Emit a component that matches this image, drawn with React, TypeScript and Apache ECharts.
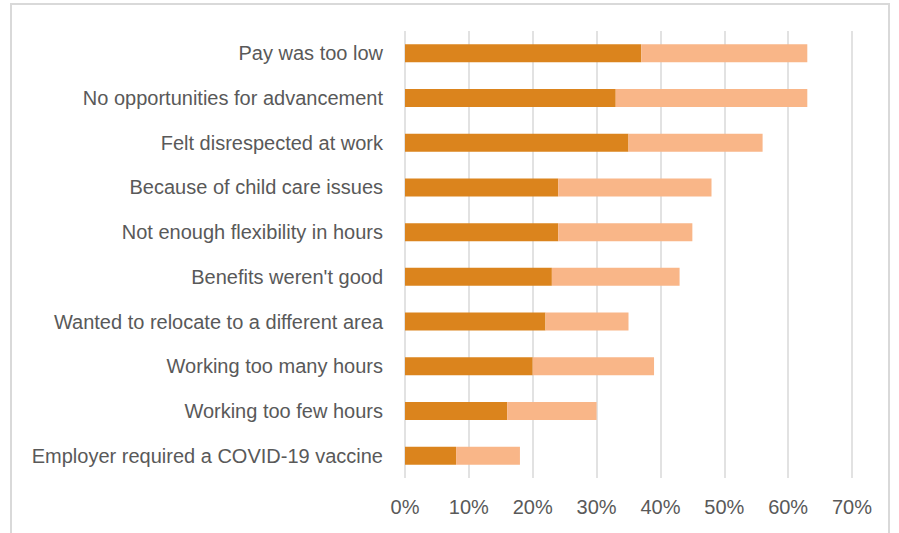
import React, { useEffect, useRef } from "react";
import * as echarts from "echarts";

const categories = [
  "Pay was too low",
  "No opportunities for advancement",
  "Felt disrespected at work",
  "Because of child care issues",
  "Not enough flexibility in hours",
  "Benefits weren't good",
  "Wanted to relocate to a different area",
  "Working too many hours",
  "Working too few hours",
  "Employer required a COVID-19 vaccine",
];
const majorReason = [37, 33, 35, 24, 24, 23, 22, 20, 16, 8];
const minorReason = [26, 30, 21, 24, 21, 20, 13, 19, 14, 10];
const xTicks = [0, 10, 20, 30, 40, 50, 60, 70];

export default function App() {
  const ref = useRef<HTMLDivElement>(null);
  useEffect(() => {
    if (!ref.current) return;
    const chart = echarts.init(ref.current, null, { renderer: "svg" });
    const cats = [...categories].reverse();
    const a = [...majorReason].reverse();
    const b = [...minorReason].reverse();
    chart.setOption({
      animation: false,
      backgroundColor: "#ffffff",
      textStyle: { fontFamily: "Liberation Sans, Arial, sans-serif" },
      graphic: [
        {
          type: "rect",
          shape: { x: 11, y: 4, width: 878, height: 600 },
          style: { fill: "none", stroke: "#D9D9D9", lineWidth: 2 },
          silent: true,
        },
      ],
      grid: { left: 405, right: 47, top: 31, bottom: 55, containLabel: false },
      xAxis: {
        type: "value",
        min: xTicks[0],
        max: xTicks[xTicks.length - 1],
        interval: 10,
        axisLine: { show: false },
        axisTick: { show: false },
        splitLine: { show: true, lineStyle: { color: "#D9D9D9", width: 1.5 } },
        axisLabel: {
          formatter: "{value}%",
          color: "#595959",
          fontSize: 20,
          margin: 19,
        },
      },
      yAxis: {
        type: "category",
        data: cats,
        axisLine: { show: false },
        axisTick: { show: false },
        axisLabel: { color: "#595959", fontSize: 20, margin: 22 },
      },
      series: [
        {
          name: "Major reason",
          type: "bar",
          stack: "total",
          data: a,
          barWidth: 18,
          itemStyle: { color: "#DB841D" },
        },
        {
          name: "Minor reason",
          type: "bar",
          stack: "total",
          data: b,
          barWidth: 18,
          itemStyle: { color: "#F9B688" },
        },
      ],
    });
    return () => chart.dispose();
  }, []);
  return (
    <div
      ref={ref}
      style={{ position: "fixed", left: 0, top: 0, width: 899, height: 533 }}
    />
  );
}
